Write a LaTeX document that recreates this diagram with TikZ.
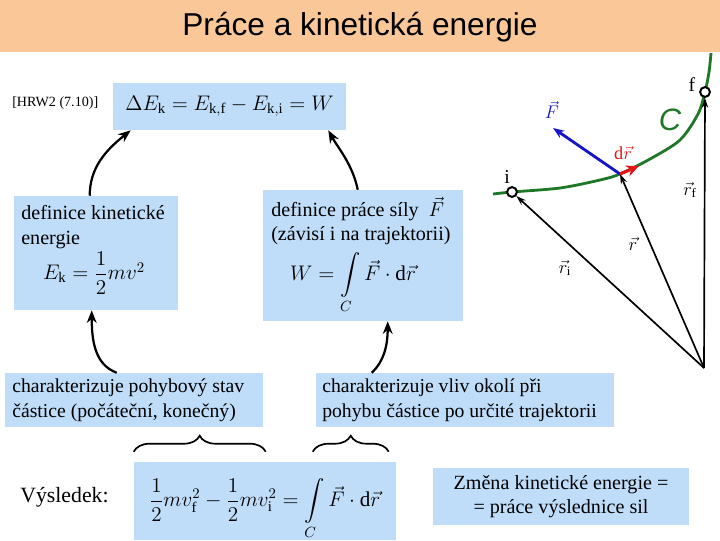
\RequirePackage{fix-cm}
\documentclass[tikz,border=0pt]{standalone}
\usepackage{amsmath}
\usepackage{fontspec}
\setmainfont{Liberation Serif}
\setsansfont{Liberation Sans}
\usetikzlibrary{arrows.meta,calc,fit,decorations.pathreplacing}
\definecolor{boxblue}{RGB}{191,221,249}
\definecolor{titlebg}{RGB}{250,200,152}
\definecolor{curvegreen}{RGB}{30,120,40}
\definecolor{forceblue}{RGB}{20,20,200}
\definecolor{drred}{RGB}{230,20,20}

\begin{document}
\begin{tikzpicture}[x=0.025cm,y=-0.025cm,
  box/.style={fill=boxblue,inner sep=0pt},
  txt/.style={font=\fontsize{14.3}{17.5}\selectfont,align=left,inner sep=0pt},
  bigtxt/.style={font=\fontsize{14}{17.5}\selectfont,align=left,inner sep=0pt},
  frm/.style={font=\fontsize{15}{18}\selectfont,inner sep=0pt},
  link/.style={-{Stealth[length=9pt,width=7pt]},line width=1.6pt},
  vec/.style={-{Stealth[length=7pt,width=4.5pt]},line width=1.2pt},
  pt/.style={circle,draw,line width=1.4pt,fill=white,inner sep=0pt,minimum size=7pt},
  curly/.style={decorate,decoration={brace,amplitude=0.4cm},line width=1.2pt}]
\useasboundingbox (0,0) rectangle (720,540);

\draw[curvegreen,line width=2pt] plot[smooth] coordinates {(493,194) (512,192) (560,188) (600,180) (620,174) (650,159) (680,140) (698,114) (705,92) (709,72) (711,53)};

\node[box,fit={(0,0) (720,52)},fill=titlebg] (bar) {};
\node[font=\sffamily\fontsize{22.5}{26}\selectfont] at (360,27) {Práce a kinetická energie};

\node[box,fit={(113,83) (346,130)}] (dE) {};
\node[box,fit={(14,196) (178,310)}] (kin) {};
\node[box,fit={(263,190) (463,321)}] (work) {};
\node[box,fit={(5,373) (263,427)}] (stav) {};
\node[box,fit={(316,373) (614,427)}] (vliv) {};
\node[box,fit={(134,462) (396,540)}] (res) {};
\node[box,fit={(433,468) (689,525)}] (zmena) {};

\node[font=\fontsize{10}{12}\selectfont,anchor=west,inner sep=0pt] at (12,103) {[HRW2 (7.10)]};
\node[frm] at (dE.center) {$\Delta E_{\mathrm k}=E_{\mathrm{k,f}}-E_{\mathrm{k,i}}=W$};
\node[txt,anchor=west] at (21,227) {definice kinetické\\energie};
\node[frm] at (94,273) {$E_{\mathrm k}=\dfrac{1}{2}mv^2$};
\node[txt,anchor=west] at (271,221) {definice práce síly~ $\vec F$\\(závisí i na trajektorii)};
\node[frm] at (353,283) {$W=\displaystyle\int\limits_{C}\vec F\cdot\mathrm d\vec r$};
\node[bigtxt,anchor=west] at (12,400) {charakterizuje pohybový stav\\částice (počáteční, konečný)};
\node[bigtxt,anchor=west] at (322,400) {charakterizuje vliv okolí při\\pohybu částice po určité trajektorii};
\node[font=\fontsize{15.5}{18}\selectfont,anchor=west,inner sep=0pt] at (20,497) {Výsledek:};
\node[frm] at (265,509) {$\dfrac{1}{2}mv_{\mathrm f}^2-\dfrac{1}{2}mv_{\mathrm i}^2=\displaystyle\int\limits_{C}\vec F\cdot\mathrm d\vec r$};
\node[txt,align=center] at (zmena.center) {Změna kinetické energie =\\= práce výslednice sil};

\draw[link] ($(kin.north west)+(76,0)$) .. controls +(0,-28) and +(-25,20) .. ($(dE.south west)+(18,0)$);
\draw[link] ($(work.north west)+(95,0)$) .. controls +(-5,-25) and +(10,18) .. ($(dE.south east)+(-18,0)$);
\draw[link] ($(stav.north west)+(112,0)$) .. controls +(-22,-8) and +(0,30) .. ($(kin.south west)+(78,0)$);
\draw[link] ($(vliv.north west)+(56,0)$) .. controls +(13,-12) and +(0,22) .. ($(work.south west)+(125,0)$);

\draw[curly] ($(res.north west)+(0,-10)$) -- ($(res.north west)+(132,-10)$);
\draw[curly] ($(res.north west)+(179,-10)$) -- ($(res.north west)+(255,-10)$);

\coordinate (O) at (704,368);
\coordinate (P) at (620,174);
\coordinate (Ftip) at (553,128);
\coordinate (drtip) at (639,166);
\node[pt] (i) at (512,192) {};
\node[pt] (f) at (705,92) {};
\node[font=\fontsize{14}{14}\selectfont] at (507,177) {i};
\node[font=\fontsize{14}{14}\selectfont] at (692,85) {f};
\node[text=curvegreen,font=\sffamily\itshape\fontsize{22}{22}\selectfont] at (670,120) {C};

\draw[vec] (O) -- (i);
\draw[vec] (O) -- (P);
\draw[vec] (O) -- (f);
\draw[forceblue,-{Stealth[length=8pt,width=6pt]},line width=2pt] (P) -- (Ftip);
\draw[drred,-{Stealth[length=9pt,width=8pt]},line width=2.2pt] (P) -- (drtip);

\node[text=forceblue,font=\fontsize{13}{13}\selectfont] at (552,110) {$\vec F$};
\node[text=drred,font=\fontsize{13}{13}\selectfont] at (623,153) {$\mathrm d\vec r$};
\node[font=\fontsize{13}{13}\selectfont] at (565,268) {$\vec r_{\mathrm i}$};
\node[font=\fontsize{13}{13}\selectfont] at (633,244) {$\vec r$};
\node[font=\fontsize{13}{13}\selectfont] at (690,190) {$\vec r_{\mathrm f}$};
\end{tikzpicture}
\end{document}
